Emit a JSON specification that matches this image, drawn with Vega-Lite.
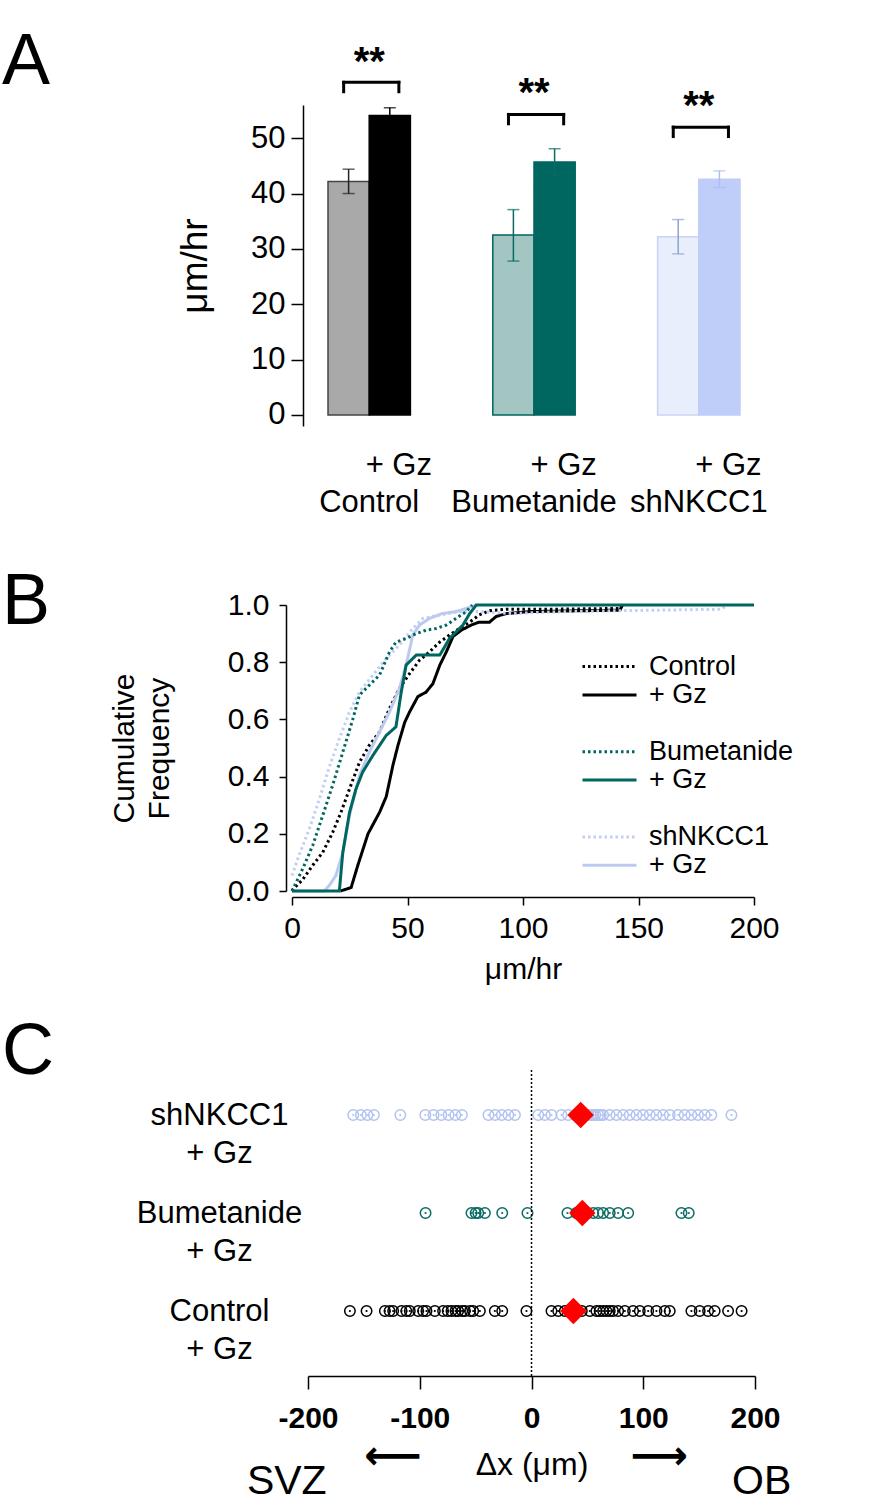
{
  "$schema": "https://vega.github.io/schema/vega-lite/v6.json",
  "background": "white",
  "padding": {"left": 2, "top": 25, "right": 5, "bottom": 5},
  "bounds": "flush",
  "spacing": 179,
  "resolve": {
    "scale": {"color": "independent", "strokeDash": "independent", "fill": "independent", "stroke": "independent"},
    "legend": {"color": "independent", "strokeDash": "independent", "fill": "independent", "stroke": "independent"}
  },
  "config": {
    "font": "Liberation Sans",
    "view": {"stroke": null},
    "axis": {"grid": false, "domainColor": "black", "tickColor": "black", "labelColor": "black", "titleColor": "black", "titleFontWeight": "normal", "labelFlush": false, "labelOverlap": false, "domainWidth": 1.5, "tickWidth": 1.5},
    "title": {"fontWeight": "normal", "color": "black"}
  },
  "datasets": {
    "bars": [
      {"bar": "Control", "group": "Control", "gz": "no", "mean": 42.2, "lo": 40.0, "hi": 44.4},
      {"bar": "Control + Gz", "group": "Control", "gz": "yes", "mean": 54.1, "lo": 52.7, "hi": 55.5},
      {"bar": "Bumetanide", "group": "Bumetanide", "gz": "no", "mean": 32.5, "lo": 27.8, "hi": 37.1},
      {"bar": "Bumetanide + Gz", "group": "Bumetanide", "gz": "yes", "mean": 45.7, "lo": 43.3, "hi": 48.1},
      {"bar": "shNKCC1", "group": "shNKCC1", "gz": "no", "mean": 32.2, "lo": 29.1, "hi": 35.3},
      {"bar": "shNKCC1 + Gz", "group": "shNKCC1", "gz": "yes", "mean": 42.6, "lo": 41.1, "hi": 44.1}
    ],
    "brackets": [
      {"l": "Control", "r": "Control + Gz", "y": 60.1, "y0": 58.4, "sy": 63.6},
      {"l": "Bumetanide", "r": "Bumetanide + Gz", "y": 54.3, "y0": 52.6, "sy": 58.0},
      {"l": "shNKCC1", "r": "shNKCC1 + Gz", "y": 52.0, "y0": 50.3, "sy": 55.6}
    ],
    "curves": [
      {"s": "Control", "x": 0, "y": 0}, {"s": "Control", "x": 1, "y": 0.01}, {"s": "Control", "x": 4.6, "y": 0.04}, {"s": "Control", "x": 9, "y": 0.09}, {"s": "Control", "x": 13.3, "y": 0.135}, {"s": "Control", "x": 17.6, "y": 0.205}, {"s": "Control", "x": 21.2, "y": 0.275}, {"s": "Control", "x": 24.9, "y": 0.357}, {"s": "Control", "x": 29.2, "y": 0.45}, {"s": "Control", "x": 33.5, "y": 0.51}, {"s": "Control", "x": 37.9, "y": 0.556}, {"s": "Control", "x": 42.2, "y": 0.638}, {"s": "Control", "x": 46.5, "y": 0.708}, {"s": "Control", "x": 50.9, "y": 0.76}, {"s": "Control", "x": 55.2, "y": 0.807}, {"s": "Control", "x": 59.5, "y": 0.836}, {"s": "Control", "x": 63.9, "y": 0.87}, {"s": "Control", "x": 68.2, "y": 0.895}, {"s": "Control", "x": 72.5, "y": 0.918}, {"s": "Control", "x": 76.9, "y": 0.94}, {"s": "Control", "x": 81, "y": 0.965}, {"s": "Control", "x": 85.5, "y": 0.98}, {"s": "Control", "x": 92.8, "y": 0.985}, {"s": "Control", "x": 110, "y": 0.985}, {"s": "Control", "x": 142, "y": 0.988}, {"s": "Control", "x": 143, "y": 1.0},
      {"s": "Control + Gz", "x": 21, "y": 0}, {"s": "Control + Gz", "x": 25.6, "y": 0.012}, {"s": "Control + Gz", "x": 28.5, "y": 0.09}, {"s": "Control + Gz", "x": 32.9, "y": 0.2}, {"s": "Control + Gz", "x": 37.9, "y": 0.275}, {"s": "Control + Gz", "x": 40.8, "y": 0.33}, {"s": "Control + Gz", "x": 43.7, "y": 0.44}, {"s": "Control + Gz", "x": 45.9, "y": 0.51}, {"s": "Control + Gz", "x": 48.8, "y": 0.59}, {"s": "Control + Gz", "x": 50.9, "y": 0.626}, {"s": "Control + Gz", "x": 54.5, "y": 0.68}, {"s": "Control + Gz", "x": 58, "y": 0.695}, {"s": "Control + Gz", "x": 61, "y": 0.725}, {"s": "Control + Gz", "x": 64, "y": 0.79}, {"s": "Control + Gz", "x": 66.8, "y": 0.836}, {"s": "Control + Gz", "x": 69.7, "y": 0.89}, {"s": "Control + Gz", "x": 73.3, "y": 0.912}, {"s": "Control + Gz", "x": 77.6, "y": 0.93}, {"s": "Control + Gz", "x": 81, "y": 0.94}, {"s": "Control + Gz", "x": 85.5, "y": 0.94}, {"s": "Control + Gz", "x": 88.4, "y": 0.96}, {"s": "Control + Gz", "x": 92.8, "y": 0.97}, {"s": "Control + Gz", "x": 103, "y": 0.977}, {"s": "Control + Gz", "x": 142, "y": 0.982}, {"s": "Control + Gz", "x": 143, "y": 1.0},
      {"s": "shNKCC1", "x": 0, "y": 0.054}, {"s": "shNKCC1", "x": 3, "y": 0.124}, {"s": "shNKCC1", "x": 7.5, "y": 0.217}, {"s": "shNKCC1", "x": 11.8, "y": 0.32}, {"s": "shNKCC1", "x": 16, "y": 0.43}, {"s": "shNKCC1", "x": 20.5, "y": 0.533}, {"s": "shNKCC1", "x": 24.9, "y": 0.626}, {"s": "shNKCC1", "x": 29.2, "y": 0.696}, {"s": "shNKCC1", "x": 35, "y": 0.755}, {"s": "shNKCC1", "x": 40.8, "y": 0.813}, {"s": "shNKCC1", "x": 46.5, "y": 0.86}, {"s": "shNKCC1", "x": 52.3, "y": 0.918}, {"s": "shNKCC1", "x": 56.6, "y": 0.953}, {"s": "shNKCC1", "x": 64, "y": 0.965}, {"s": "shNKCC1", "x": 72.5, "y": 0.977}, {"s": "shNKCC1", "x": 81, "y": 0.977}, {"s": "shNKCC1", "x": 95.7, "y": 0.97}, {"s": "shNKCC1", "x": 110, "y": 0.975}, {"s": "shNKCC1", "x": 140, "y": 0.98}, {"s": "shNKCC1", "x": 186, "y": 0.985}, {"s": "shNKCC1", "x": 188, "y": 1.0},
      {"s": "shNKCC1 + Gz", "x": 0, "y": 0}, {"s": "shNKCC1 + Gz", "x": 14, "y": 0}, {"s": "shNKCC1 + Gz", "x": 16.2, "y": 0.02}, {"s": "shNKCC1 + Gz", "x": 19, "y": 0.054}, {"s": "shNKCC1 + Gz", "x": 22, "y": 0.135}, {"s": "shNKCC1 + Gz", "x": 24.9, "y": 0.264}, {"s": "shNKCC1 + Gz", "x": 29.2, "y": 0.404}, {"s": "shNKCC1 + Gz", "x": 33.5, "y": 0.486}, {"s": "shNKCC1 + Gz", "x": 37.9, "y": 0.556}, {"s": "shNKCC1 + Gz", "x": 42.2, "y": 0.626}, {"s": "shNKCC1 + Gz", "x": 46.5, "y": 0.708}, {"s": "shNKCC1 + Gz", "x": 49.4, "y": 0.79}, {"s": "shNKCC1 + Gz", "x": 52.3, "y": 0.895}, {"s": "shNKCC1 + Gz", "x": 55.2, "y": 0.93}, {"s": "shNKCC1 + Gz", "x": 59.5, "y": 0.953}, {"s": "shNKCC1 + Gz", "x": 65, "y": 0.97}, {"s": "shNKCC1 + Gz", "x": 71, "y": 0.977}, {"s": "shNKCC1 + Gz", "x": 75.4, "y": 0.988}, {"s": "shNKCC1 + Gz", "x": 79.8, "y": 1.0},
      {"s": "Bumetanide", "x": 0, "y": 0}, {"s": "Bumetanide", "x": 4.6, "y": 0.077}, {"s": "Bumetanide", "x": 9, "y": 0.16}, {"s": "Bumetanide", "x": 13.3, "y": 0.264}, {"s": "Bumetanide", "x": 17.6, "y": 0.37}, {"s": "Bumetanide", "x": 22, "y": 0.486}, {"s": "Bumetanide", "x": 26.3, "y": 0.6}, {"s": "Bumetanide", "x": 29.2, "y": 0.685}, {"s": "Bumetanide", "x": 33.5, "y": 0.72}, {"s": "Bumetanide", "x": 37.9, "y": 0.755}, {"s": "Bumetanide", "x": 42.2, "y": 0.836}, {"s": "Bumetanide", "x": 45, "y": 0.87}, {"s": "Bumetanide", "x": 49.4, "y": 0.883}, {"s": "Bumetanide", "x": 53.8, "y": 0.9}, {"s": "Bumetanide", "x": 58, "y": 0.912}, {"s": "Bumetanide", "x": 62.4, "y": 0.918}, {"s": "Bumetanide", "x": 66.8, "y": 0.93}, {"s": "Bumetanide", "x": 71, "y": 0.953}, {"s": "Bumetanide", "x": 75.4, "y": 0.977}, {"s": "Bumetanide", "x": 78, "y": 1.0},
      {"s": "Bumetanide + Gz", "x": 0, "y": 0}, {"s": "Bumetanide + Gz", "x": 20.5, "y": 0}, {"s": "Bumetanide + Gz", "x": 22, "y": 0.135}, {"s": "Bumetanide + Gz", "x": 24.9, "y": 0.275}, {"s": "Bumetanide + Gz", "x": 27.7, "y": 0.357}, {"s": "Bumetanide + Gz", "x": 30.6, "y": 0.416}, {"s": "Bumetanide + Gz", "x": 35, "y": 0.474}, {"s": "Bumetanide + Gz", "x": 40.8, "y": 0.544}, {"s": "Bumetanide + Gz", "x": 45, "y": 0.574}, {"s": "Bumetanide + Gz", "x": 47.3, "y": 0.696}, {"s": "Bumetanide + Gz", "x": 49.4, "y": 0.79}, {"s": "Bumetanide + Gz", "x": 53.8, "y": 0.825}, {"s": "Bumetanide + Gz", "x": 64, "y": 0.825}, {"s": "Bumetanide + Gz", "x": 68.2, "y": 0.883}, {"s": "Bumetanide + Gz", "x": 74, "y": 0.93}, {"s": "Bumetanide + Gz", "x": 76.9, "y": 0.97}, {"s": "Bumetanide + Gz", "x": 79.8, "y": 1.0}, {"s": "Bumetanide + Gz", "x": 200, "y": 1.0}
    ],
    "dots": [
      {"g": "shNKCC1 + Gz", "v": -159.5}, {"g": "shNKCC1 + Gz", "v": -152.7}, {"g": "shNKCC1 + Gz", "v": -146.8}, {"g": "shNKCC1 + Gz", "v": -141}, {"g": "shNKCC1 + Gz", "v": -117.4}, {"g": "shNKCC1 + Gz", "v": -95}, {"g": "shNKCC1 + Gz", "v": -87.6}, {"g": "shNKCC1 + Gz", "v": -80.7}, {"g": "shNKCC1 + Gz", "v": -74.2}, {"g": "shNKCC1 + Gz", "v": -68.2}, {"g": "shNKCC1 + Gz", "v": -62.3}, {"g": "shNKCC1 + Gz", "v": -38.5}, {"g": "shNKCC1 + Gz", "v": -32.6}, {"g": "shNKCC1 + Gz", "v": -26.6}, {"g": "shNKCC1 + Gz", "v": -20.7}, {"g": "shNKCC1 + Gz", "v": -14.8}, {"g": "shNKCC1 + Gz", "v": 6}, {"g": "shNKCC1 + Gz", "v": 12}, {"g": "shNKCC1 + Gz", "v": 17.9}, {"g": "shNKCC1 + Gz", "v": 26.8}, {"g": "shNKCC1 + Gz", "v": 32.8}, {"g": "shNKCC1 + Gz", "v": 38.7}, {"g": "shNKCC1 + Gz", "v": 50.7}, {"g": "shNKCC1 + Gz", "v": 53}, {"g": "shNKCC1 + Gz", "v": 55.1}, {"g": "shNKCC1 + Gz", "v": 57}, {"g": "shNKCC1 + Gz", "v": 59.6}, {"g": "shNKCC1 + Gz", "v": 62}, {"g": "shNKCC1 + Gz", "v": 64.1}, {"g": "shNKCC1 + Gz", "v": 70}, {"g": "shNKCC1 + Gz", "v": 76}, {"g": "shNKCC1 + Gz", "v": 82}, {"g": "shNKCC1 + Gz", "v": 87.9}, {"g": "shNKCC1 + Gz", "v": 93.9}, {"g": "shNKCC1 + Gz", "v": 99.8}, {"g": "shNKCC1 + Gz", "v": 105.8}, {"g": "shNKCC1 + Gz", "v": 111.7}, {"g": "shNKCC1 + Gz", "v": 117.7}, {"g": "shNKCC1 + Gz", "v": 123.7}, {"g": "shNKCC1 + Gz", "v": 131.1}, {"g": "shNKCC1 + Gz", "v": 137.1}, {"g": "shNKCC1 + Gz", "v": 143}, {"g": "shNKCC1 + Gz", "v": 149}, {"g": "shNKCC1 + Gz", "v": 155}, {"g": "shNKCC1 + Gz", "v": 160.9}, {"g": "shNKCC1 + Gz", "v": 178.9},
      {"g": "Bumetanide + Gz", "v": -94.8}, {"g": "Bumetanide + Gz", "v": -53.7}, {"g": "Bumetanide + Gz", "v": -50}, {"g": "Bumetanide + Gz", "v": -47.7}, {"g": "Bumetanide + Gz", "v": -41.7}, {"g": "Bumetanide + Gz", "v": -26.2}, {"g": "Bumetanide + Gz", "v": -3.6}, {"g": "Bumetanide + Gz", "v": 32.2}, {"g": "Bumetanide + Gz", "v": 40}, {"g": "Bumetanide + Gz", "v": 43.4}, {"g": "Bumetanide + Gz", "v": 50}, {"g": "Bumetanide + Gz", "v": 55.2}, {"g": "Bumetanide + Gz", "v": 59.6}, {"g": "Bumetanide + Gz", "v": 64.1}, {"g": "Bumetanide + Gz", "v": 70}, {"g": "Bumetanide + Gz", "v": 77.5}, {"g": "Bumetanide + Gz", "v": 86.5}, {"g": "Bumetanide + Gz", "v": 134.2}, {"g": "Bumetanide + Gz", "v": 140.7},
      {"g": "Control + Gz", "v": -162.5}, {"g": "Control + Gz", "v": -147.6}, {"g": "Control + Gz", "v": -131.2}, {"g": "Control + Gz", "v": -127}, {"g": "Control + Gz", "v": -123.8}, {"g": "Control + Gz", "v": -116.3}, {"g": "Control + Gz", "v": -112}, {"g": "Control + Gz", "v": -108.9}, {"g": "Control + Gz", "v": -101.4}, {"g": "Control + Gz", "v": -97}, {"g": "Control + Gz", "v": -94}, {"g": "Control + Gz", "v": -86.5}, {"g": "Control + Gz", "v": -79.1}, {"g": "Control + Gz", "v": -75}, {"g": "Control + Gz", "v": -71.6}, {"g": "Control + Gz", "v": -68}, {"g": "Control + Gz", "v": -65.6}, {"g": "Control + Gz", "v": -62}, {"g": "Control + Gz", "v": -59.6}, {"g": "Control + Gz", "v": -55}, {"g": "Control + Gz", "v": -52.2}, {"g": "Control + Gz", "v": -46.2}, {"g": "Control + Gz", "v": -32.8}, {"g": "Control + Gz", "v": -26.2}, {"g": "Control + Gz", "v": -4.5}, {"g": "Control + Gz", "v": 17.9}, {"g": "Control + Gz", "v": 23.9}, {"g": "Control + Gz", "v": 29.8}, {"g": "Control + Gz", "v": 34}, {"g": "Control + Gz", "v": 45}, {"g": "Control + Gz", "v": 52.2}, {"g": "Control + Gz", "v": 58.1}, {"g": "Control + Gz", "v": 61}, {"g": "Control + Gz", "v": 64.1}, {"g": "Control + Gz", "v": 67}, {"g": "Control + Gz", "v": 70}, {"g": "Control + Gz", "v": 73}, {"g": "Control + Gz", "v": 77.5}, {"g": "Control + Gz", "v": 83.5}, {"g": "Control + Gz", "v": 90.9}, {"g": "Control + Gz", "v": 96.9}, {"g": "Control + Gz", "v": 104.4}, {"g": "Control + Gz", "v": 111.8}, {"g": "Control + Gz", "v": 119.3}, {"g": "Control + Gz", "v": 123.7}, {"g": "Control + Gz", "v": 143.1}, {"g": "Control + Gz", "v": 150.5}, {"g": "Control + Gz", "v": 158}, {"g": "Control + Gz", "v": 163.9}, {"g": "Control + Gz", "v": 175.9}, {"g": "Control + Gz", "v": 188}
    ],
    "means": [
      {"g": "shNKCC1 + Gz", "m": 44},
      {"g": "Bumetanide + Gz", "m": 45.5},
      {"g": "Control + Gz", "m": 37.5}
    ]
  },
  "vconcat": [
    {
      "width": 484,
      "height": 321,
      "title": {"text": "A", "anchor": "start", "frame": "group", "fontSize": 72, "dx": -290, "dy": 117, "baseline": "alphabetic"},
      "layer": [
        {
          "data": {"name": "bars"},
          "mark": {"type": "bar", "strokeWidth": 1.5},
          "encoding": {
            "x": {"field": "bar", "type": "nominal", "scale": {"domain": ["Control", "Control + Gz", "g1", "g2", "Bumetanide", "Bumetanide + Gz", "g3", "g4", "shNKCC1", "shNKCC1 + Gz"], "paddingInner": 0, "paddingOuter": 0.874}, "axis": null},
            "y": {"field": "mean", "type": "quantitative", "title": "μm/hr", "scale": {"domain": [-2, 56], "nice": false, "zero": false},
              "axis": {"title": "μm/hr", "values": [0, 10, 20, 30, 40, 50], "offset": -11, "tickSize": 12, "labelPadding": 6, "labelFontSize": 31, "titleFontSize": 37, "titlePadding": 36}},
            "y2": {"datum": 0},
            "fill": {"field": "bar", "type": "nominal", "scale": {"domain": ["Control", "Control + Gz", "Bumetanide", "Bumetanide + Gz", "shNKCC1", "shNKCC1 + Gz"], "range": ["#a9a9a9", "#000000", "#a3c6c3", "#006660", "#e9eefc", "#bfcdf9"]}, "legend": null},
            "stroke": {"field": "bar", "type": "nominal", "scale": {"domain": ["Control", "Control + Gz", "Bumetanide", "Bumetanide + Gz", "shNKCC1", "shNKCC1 + Gz"], "range": ["#444444", "#000000", "#006660", "#006660", "#c9d4f3", "#bfcdf9"]}, "legend": null}
          }
        },
        {
          "data": {"name": "bars"},
          "mark": {"type": "rule", "strokeWidth": 1.5},
          "encoding": {
            "x": {"field": "bar", "type": "nominal", "axis": null},
            "y": {"field": "lo", "type": "quantitative", "title": "μm/hr"},
            "y2": {"field": "hi"},
            "color": {"field": "bar", "type": "nominal", "scale": {"domain": ["Control", "Control + Gz", "Bumetanide", "Bumetanide + Gz", "shNKCC1", "shNKCC1 + Gz"], "range": ["#222222", "#000000", "#0b6b64", "#0b6b64", "#8ea3d0", "#aebff0"]}, "legend": null}
          }
        },
        {
          "data": {"name": "bars"},
          "mark": {"type": "tick", "size": 12, "thickness": 1.5},
          "encoding": {
            "x": {"field": "bar", "type": "nominal", "axis": null},
            "y": {"field": "lo", "type": "quantitative", "title": "μm/hr"},
            "color": {"field": "bar", "type": "nominal", "legend": null}
          }
        },
        {
          "data": {"name": "bars"},
          "mark": {"type": "tick", "size": 12, "thickness": 1.5},
          "encoding": {
            "x": {"field": "bar", "type": "nominal", "axis": null},
            "y": {"field": "hi", "type": "quantitative", "title": "μm/hr"},
            "color": {"field": "bar", "type": "nominal", "legend": null}
          }
        },
        {
          "data": {"name": "brackets"},
          "mark": {"type": "rule", "strokeWidth": 3, "color": "black", "strokeCap": "square"},
          "encoding": {
            "x": {"field": "l", "type": "nominal", "bandPosition": 0.38, "axis": null},
            "x2": {"field": "r", "bandPosition": 0.72},
            "y": {"field": "y", "type": "quantitative", "title": "μm/hr"}
          }
        },
        {
          "data": {"name": "brackets"},
          "mark": {"type": "rule", "strokeWidth": 3, "color": "black", "strokeCap": "square"},
          "encoding": {
            "x": {"field": "l", "type": "nominal", "bandPosition": 0.38, "axis": null},
            "y": {"field": "y", "type": "quantitative", "title": "μm/hr"},
            "y2": {"field": "y0"}
          }
        },
        {
          "data": {"name": "brackets"},
          "mark": {"type": "rule", "strokeWidth": 3, "color": "black", "strokeCap": "square"},
          "encoding": {
            "x": {"field": "r", "type": "nominal", "bandPosition": 0.72, "axis": null},
            "y": {"field": "y", "type": "quantitative", "title": "μm/hr"},
            "y2": {"field": "y0"}
          }
        },
        {
          "data": {"name": "brackets"},
          "mark": {"type": "text", "fontSize": 40, "fontWeight": "bold", "baseline": "middle", "align": "center", "color": "black"},
          "encoding": {
            "x": {"field": "l", "type": "nominal", "bandPosition": 1, "axis": null},
            "y": {"field": "sy", "type": "quantitative", "title": "μm/hr"},
            "text": {"value": "**"}
          }
        },
        {
          "data": {"name": "bars"},
          "transform": [{"filter": "datum.gz == 'yes'"}],
          "mark": {"type": "text", "fontSize": 31, "baseline": "middle", "align": "center", "dx": 9, "color": "black"},
          "encoding": {
            "x": {"field": "bar", "type": "nominal", "axis": null},
            "y": {"datum": -9.2, "type": "quantitative", "title": "μm/hr"},
            "text": {"value": "+ Gz"}
          }
        },
        {
          "data": {"name": "bars"},
          "transform": [{"filter": "datum.gz == 'no'"}],
          "mark": {"type": "text", "fontSize": 31, "baseline": "middle", "align": "center", "color": "black"},
          "encoding": {
            "x": {"field": "bar", "type": "nominal", "bandPosition": 1, "axis": null},
            "y": {"datum": -15.9, "type": "quantitative", "title": "μm/hr"},
            "text": {"field": "group"}
          }
        }
      ]
    },
    {
      "width": 462,
      "height": 286,
      "title": {"text": "B", "anchor": "start", "frame": "group", "fontSize": 72, "dx": -290, "dy": 110, "baseline": "alphabetic"},
      "data": {"name": "curves"},
      "mark": {"type": "line", "strokeWidth": 3, "strokeCap": "butt"},
      "encoding": {
        "x": {"field": "x", "type": "quantitative", "scale": {"domain": [0, 200], "nice": false},
          "axis": {"values": [0, 50, 100, 150, 200], "title": "μm/hr", "offset": 6, "tickSize": 8, "labelPadding": 8, "labelFontSize": 30, "titleFontSize": 30, "titlePadding": 11}},
        "y": {"field": "y", "type": "quantitative", "scale": {"domain": [0, 1], "nice": false},
          "axis": {"values": [0, 0.2, 0.4, 0.6, 0.8, 1], "format": ".1f", "title": ["Cumulative", "Frequency"], "offset": 6, "tickSize": 7, "labelPadding": 10, "labelFontSize": 30, "titleFontSize": 30, "titleLineHeight": 35, "titlePadding": 53}},
        "color": {"field": "s", "type": "nominal",
          "scale": {"domain": ["Control", "Control + Gz", "sp1", "Bumetanide", "Bumetanide + Gz", "sp2", "shNKCC1", "shNKCC1 + Gz"], "range": ["#000000", "#000000", "transparent", "#006660", "#006660", "transparent", "#c3cff2", "#bccaf0"]},
          "legend": {"title": null, "orient": "none", "legendX": 304, "legendY": 48, "symbolType": "M-5.4,0H5.4", "symbolSize": 100, "symbolStrokeWidth": 3, "labelFontSize": 27, "labelOffset": 26, "rowPadding": 0.4, "labelColor": "black",
            "labelExpr": "indexof(datum.label, '+ Gz') >= 0 ? '+ Gz' : ((datum.label == 'sp1' || datum.label == 'sp2') ? '' : datum.label)",
            "encode": {"symbols": {"update": {"strokeDash": {"signal": "indexof(datum.value, '+ Gz') >= 0 ? [1, 0] : [2.5, 3]"}}}}}},
        "strokeDash": {"field": "s", "type": "nominal",
          "scale": {"domain": ["Control", "Control + Gz", "sp1", "Bumetanide", "Bumetanide + Gz", "sp2", "shNKCC1", "shNKCC1 + Gz"], "range": [[2.5, 3], [1, 0], [1, 0], [2.5, 3], [1, 0], [1, 0], [2.5, 3], [1, 0]]},
          "legend": null}
      }
    },
    {
      "width": 470,
      "height": 306,
      "title": {"text": "C", "anchor": "start", "frame": "group", "fontSize": 72, "dx": -290, "dy": 81, "baseline": "alphabetic"},
      "resolve": {"scale": {"y": "independent"}},
      "layer": [
        {
          "data": {"name": "dots"},
          "mark": {"type": "point", "shape": "circle", "filled": false, "size": 110, "strokeWidth": 1.5, "opacity": 1},
          "encoding": {
            "x": {"field": "v", "type": "quantitative", "title": "Δx (μm)", "scale": {"domain": [-200, 200], "range": [16, 463], "nice": false, "zero": false},
              "axis": {"title": "Δx (μm)", "values": [-200, -100, 0, 100, 200], "labelExpr": "replace(datum.label, '−', '-')", "tickSize": 13, "labelPadding": 14, "labelFontSize": 30, "labelFontWeight": "bold", "titleFontSize": 32, "titlePadding": 16}},
            "y": {"field": "g", "type": "nominal", "scale": {"type": "point", "padding": 0, "domain": ["shNKCC1 + Gz", "Bumetanide + Gz", "Control + Gz"], "range": [45, 241]},
              "axis": {"title": null, "domain": false, "ticks": false, "tickSize": 0, "labelFontSize": 31, "labelAlign": "center", "labelPadding": 73, "labelLineHeight": 38, "labelBaseline": "middle", "labelOffset": 0,
                "labelExpr": "[replace(datum.label, ' + Gz', ''), '+ Gz']"}},
            "color": {"field": "g", "type": "nominal", "scale": {"domain": ["shNKCC1 + Gz", "Bumetanide + Gz", "Control + Gz"], "range": ["#b3c3f0", "#0b6b64", "#000000"]}, "legend": null}
          }
        },
        {
          "data": {"name": "dots"},
          "mark": {"type": "point", "shape": "circle", "filled": true, "size": 5, "opacity": 1},
          "encoding": {
            "x": {"field": "v", "type": "quantitative", "title": "Δx (μm)"},
            "y": {"field": "g", "type": "nominal", "scale": {"type": "point", "padding": 0, "domain": ["shNKCC1 + Gz", "Bumetanide + Gz", "Control + Gz"], "range": [45, 241]}, "axis": null},
            "color": {"field": "g", "type": "nominal", "legend": null}
          }
        },
        {
          "data": {"values": [{}]},
          "mark": {"type": "rule", "strokeDash": [2, 2], "strokeWidth": 1.5, "color": "black"},
          "encoding": {
            "x": {"datum": 0, "type": "quantitative", "title": "Δx (μm)"}
          }
        },
        {
          "data": {"name": "means"},
          "mark": {"type": "point", "shape": "diamond", "filled": true, "size": 700, "color": "#ff0000", "opacity": 1},
          "encoding": {
            "x": {"field": "m", "type": "quantitative", "title": "Δx (μm)"},
            "y": {"field": "g", "type": "nominal", "scale": {"type": "point", "padding": 0, "domain": ["shNKCC1 + Gz", "Bumetanide + Gz", "Control + Gz"], "range": [45, 241]}, "axis": null}
          }
        },
        {
          "data": {"values": [{}]},
          "mark": {"type": "text", "fontSize": 41, "baseline": "middle", "align": "center", "color": "black"},
          "encoding": {
            "x": {"datum": -219, "type": "quantitative", "title": "Δx (μm)"},
            "y": {"datum": -0.345, "type": "quantitative", "scale": {"domain": [0, 1]}, "axis": null},
            "text": {"value": "SVZ"}
          }
        },
        {
          "data": {"values": [{}]},
          "mark": {"type": "text", "fontSize": 41, "baseline": "middle", "align": "center", "color": "black"},
          "encoding": {
            "x": {"datum": 206, "type": "quantitative", "title": "Δx (μm)"},
            "y": {"datum": -0.345, "type": "quantitative", "scale": {"domain": [0, 1]}, "axis": null},
            "text": {"value": "OB"}
          }
        },
        {
          "data": {"values": [{}]},
          "mark": {"type": "text", "font": "DejaVu Sans", "fontWeight": "bold", "fontSize": 40, "baseline": "middle", "align": "center", "color": "black"},
          "encoding": {
            "x": {"datum": -124, "type": "quantitative", "title": "Δx (μm)"},
            "y": {"datum": -0.265, "type": "quantitative", "scale": {"domain": [0, 1]}, "axis": null},
            "text": {"value": "⟵"}
          }
        },
        {
          "data": {"values": [{}]},
          "mark": {"type": "text", "font": "DejaVu Sans", "fontWeight": "bold", "fontSize": 40, "baseline": "middle", "align": "center", "color": "black"},
          "encoding": {
            "x": {"datum": 114.5, "type": "quantitative", "title": "Δx (μm)"},
            "y": {"datum": -0.265, "type": "quantitative", "scale": {"domain": [0, 1]}, "axis": null},
            "text": {"value": "⟶"}
          }
        }
      ]
    }
  ]
}
